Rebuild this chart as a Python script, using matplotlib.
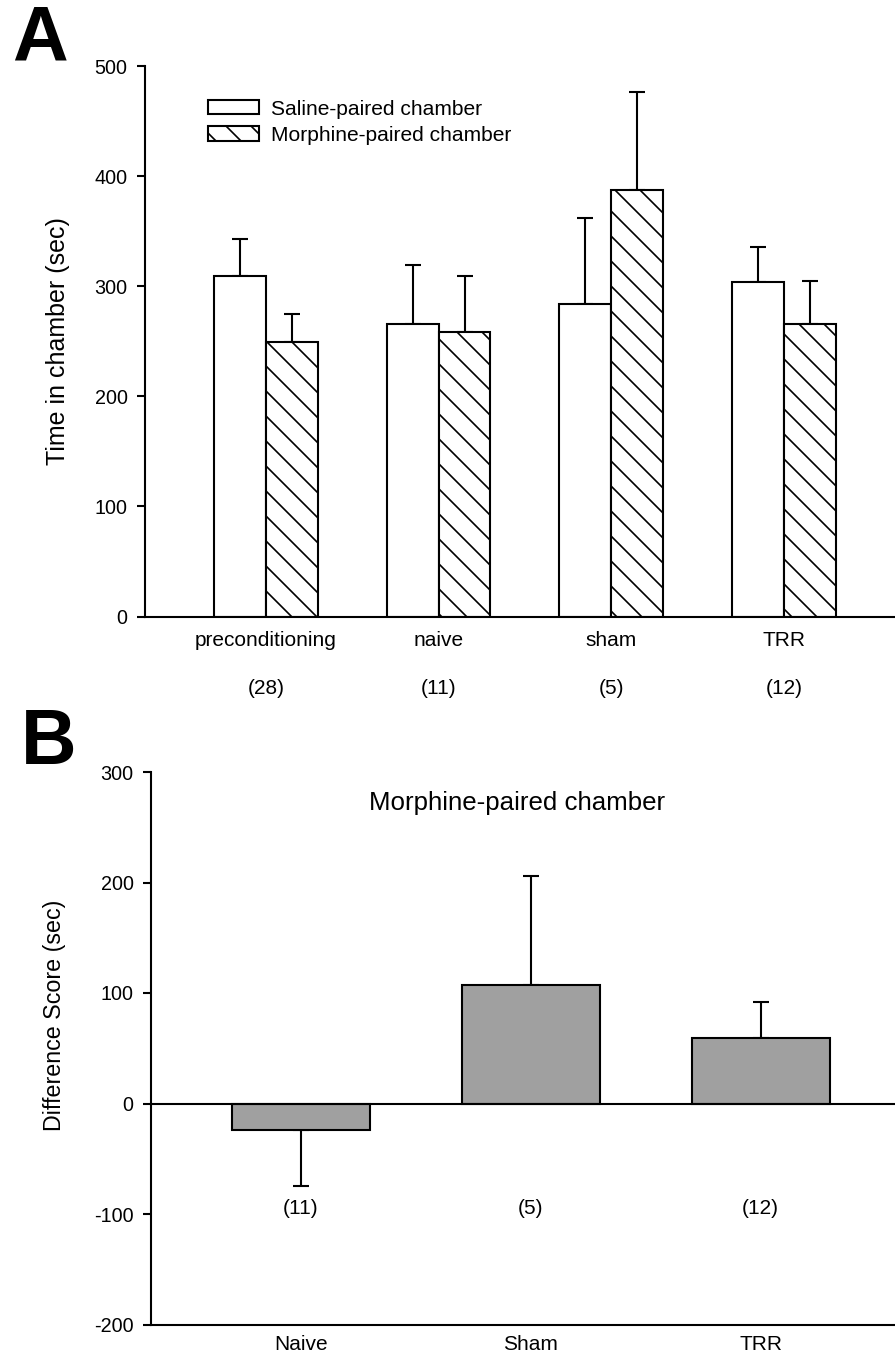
import matplotlib
matplotlib.use("Agg")
import matplotlib.pyplot as plt
import numpy as np

plt.rcParams['font.family'] = ['Liberation Sans', 'DejaVu Sans']
plt.rcParams['hatch.linewidth'] = 0.8
plt.rcParams['axes.unicode_minus'] = False

# panel A data
groups_a = ['preconditioning', 'naive', 'sham', 'TRR']
n_a = ['(28)', '(11)', '(5)', '(12)']
saline_mean = [309.5, 265.5, 283.5, 303.5]
saline_sem = [33, 54, 78, 32]
morphine_mean = [249, 258, 387, 266]
morphine_sem = [26, 51, 89, 39]

# panel B data
groups_b = ['Naive', 'Sham', 'TRR']
n_b = ['(11)', '(5)', '(12)']
diff_mean = [-24, 107, 59]
diff_sem = [51, 98.5, 33]

W, H, DPI = 895, 1359, 150
fig = plt.figure(figsize=(W / DPI, H / DPI), dpi=DPI)


def style_axes(ax):
    ax.spines['top'].set_visible(False)
    ax.spines['right'].set_visible(False)
    ax.spines['left'].set_linewidth(1.0)
    ax.spines['bottom'].set_linewidth(1.0)
    ax.tick_params(axis='y', length=3.8, width=1.0, pad=4.5, labelsize=9.5)
    ax.tick_params(axis='x', length=0)
    ax.set_xticks([])


# ---- panel A ----
axA = fig.add_axes([145 / W, 1 - 616.5 / H, 750 / W, 550.5 / H])
x = np.arange(len(groups_a))
bw = 0.3
axA.bar(x - bw / 2, saline_mean, bw, color='white', edgecolor='black',
        linewidth=1.0, label='Saline-paired chamber', zorder=2)
axA.bar(x + bw / 2, morphine_mean, bw, color='white', edgecolor='black',
        linewidth=1.0, hatch='\\\\', label='Morphine-paired chamber', zorder=2)
axA.errorbar(x - bw / 2, saline_mean, yerr=[np.zeros(4), saline_sem], fmt='none',
             ecolor='black', elinewidth=1.0, capsize=4, capthick=1.0, zorder=1)
axA.errorbar(x + bw / 2, morphine_mean, yerr=[np.zeros(4), morphine_sem], fmt='none',
             ecolor='black', elinewidth=1.0, capsize=4, capthick=1.0, zorder=1)
axA.set_xlim(-0.701, 3.644)
axA.set_ylim(0, 500)
axA.set_yticks([0, 100, 200, 300, 400, 500])
style_axes(axA)
for i in range(len(groups_a)):
    axA.text(x[i], -21.4, groups_a[i], ha='center', va='center', fontsize=10, clip_on=False)
    axA.text(x[i], -65, n_a[i], ha='center', va='center', fontsize=10, clip_on=False)
axA.text((58 - 145) / 750, 0.5, 'Time in chamber (sec)', transform=axA.transAxes,
         rotation=90, ha='center', va='center', fontsize=12)
axA.legend(loc='upper left', bbox_to_anchor=(0.0836, 0.939), frameon=False,
           fontsize=10.1, handlelength=2.45, handleheight=0.68, handletextpad=0.55,
           labelspacing=0.35, borderpad=0, borderaxespad=0)
fig.text(39.5 / W, 1 - 40 / H, 'A', fontsize=37, fontweight='bold', ha='center', va='center')

# ---- panel B ----
axB = fig.add_axes([151 / W, 1 - 1324.5 / H, 744 / W, 552.5 / H])
xb = np.arange(len(groups_b))
axB.bar(xb, diff_mean, 0.6, color='#a0a0a0', edgecolor='black', linewidth=1.0, zorder=2)
lo = [s if m < 0 else 0 for m, s in zip(diff_mean, diff_sem)]
hi = [s if m >= 0 else 0 for m, s in zip(diff_mean, diff_sem)]
axB.errorbar(xb, diff_mean, yerr=[lo, hi], fmt='none', ecolor='black',
             elinewidth=1.0, capsize=4, capthick=1.0, zorder=1)
axB.axhline(0, color='black', linewidth=1.0, zorder=3)
axB.set_xlim(-0.651, 2.584)
axB.set_ylim(-200, 300)
axB.set_yticks([-200, -100, 0, 100, 200, 300])
style_axes(axB)
for i in range(len(groups_b)):
    axB.text(xb[i], -218.5, groups_b[i], ha='center', va='center', fontsize=10, clip_on=False)
    axB.text(xb[i], -95, n_b[i], ha='center', va='center', fontsize=10)
axB.text((517 - 151) / 744, (1324.5 - 803) / 552.5, 'Morphine-paired chamber',
         transform=axB.transAxes, ha='center', va='center', fontsize=12.4)
axB.text((54 - 151) / 744, (1324.5 - 1015) / 552.5, 'Difference Score (sec)',
         transform=axB.transAxes, rotation=90, ha='center', va='center', fontsize=11.2)
fig.text(49 / W, 1 - 743 / H, 'B', fontsize=37, fontweight='bold', ha='center', va='center')

fig.savefig('out.png', dpi=DPI)
